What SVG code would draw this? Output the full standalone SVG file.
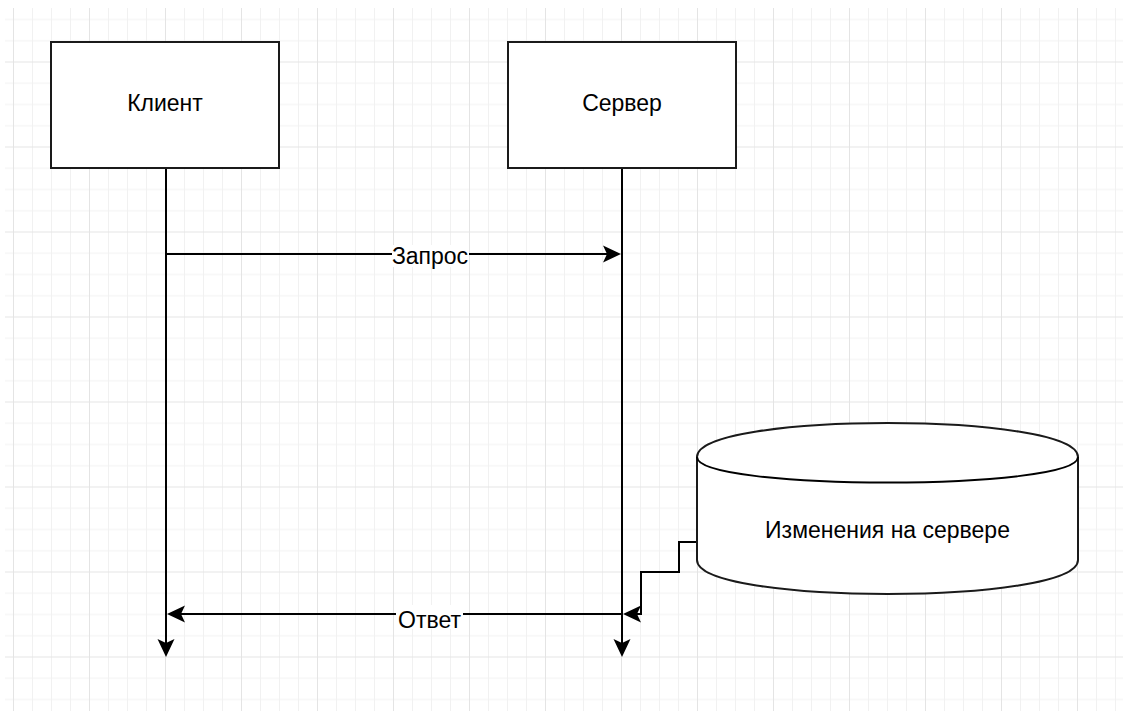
<svg xmlns="http://www.w3.org/2000/svg" width="1127" height="711" viewBox="0 0 1127 711">
  <style>
    .shape { fill: #ffffff; stroke: #1a1a1a; stroke-width: 2; }
    .line { fill: none; stroke: #000000; stroke-width: 2; }
    .label { font-family: "Liberation Sans", Arial, sans-serif; font-size: 23px; fill: #000000; text-anchor: middle; }
    .labelbg { fill: #ffffff; }
  </style>
  <defs>
    <!-- background grid: minor 19 x 21.25, major every 4 cells -->
    <pattern id="grid" patternUnits="userSpaceOnUse" x="13" y="61.5" width="76" height="85">
      <g fill="#f1f1f1">
        <rect x="19" y="0" width="1" height="85"/>
        <rect x="38" y="0" width="1" height="85"/>
        <rect x="57" y="0" width="1" height="85"/>
        <rect x="0" y="21.25" width="76" height="1"/>
        <rect x="0" y="42.5" width="76" height="1"/>
        <rect x="0" y="63.75" width="76" height="1"/>
      </g>
      <g fill="#e4e4e4">
        <rect x="0" y="0" width="1" height="85"/>
        <rect x="0" y="0" width="76" height="1"/>
      </g>
    </pattern>
    <!-- classic filled arrowhead; tip sits 5px past the path end -->
    <marker id="arrow" markerUnits="userSpaceOnUse" viewBox="-16 -10 24 20" refX="0" refY="0" markerWidth="24" markerHeight="20" orient="auto" overflow="visible">
      <path d="M5,0 L-13,-8.5 L-9,0 L-13,8.5 Z" fill="#000000"/>
    </marker>
  </defs>

  <rect x="0" y="0" width="1127" height="711" fill="#ffffff"/>
  <rect x="5" y="8" width="1118" height="703" fill="url(#grid)"/>

  <!-- connectors -->
  <g id="connectors">
    <path id="lifeline-client" class="line" d="M166,168 L166,652" marker-end="url(#arrow)"/>
    <path id="lifeline-server" class="line" d="M622,168 L622,652" marker-end="url(#arrow)"/>
    <path id="request" class="line" d="M166,254 L616,254" marker-end="url(#arrow)"/>
    <path id="response" class="line" d="M622,614 L172,614" marker-end="url(#arrow)"/>
    <path id="change" class="line" d="M697,542 L679,542 L679,572 L641,572 L641,614 L628,614" marker-end="url(#arrow)"/>
    <g id="request-label">
      <rect class="labelbg" x="392" y="245" width="77" height="22"/>
      <text class="label" x="430" y="264">Запрос</text>
    </g>
    <g id="response-label">
      <rect class="labelbg" x="396" y="605" width="67" height="24"/>
      <text class="label" x="429.5" y="628">Ответ</text>
    </g>
  </g>

  <!-- nodes -->
  <g id="client">
    <rect class="shape" x="51" y="42" width="228" height="126"/>
    <text class="label" x="165" y="111">Клиент</text>
  </g>
  <g id="server">
    <rect class="shape" x="508" y="42" width="228" height="126"/>
    <text class="label" x="622" y="111">Сервер</text>
  </g>
  <g id="changes">
    <path class="shape" d="M697,457 C697,411.67 1078,411.67 1078,457 L1078,560 C1078,605.33 697,605.33 697,560 Z"/>
    <path class="line" stroke="#1a1a1a" d="M697,457 C697,491 1078,491 1078,457"/>
    <text class="label" x="887.5" y="538">Изменения на сервере</text>
  </g>
</svg>
